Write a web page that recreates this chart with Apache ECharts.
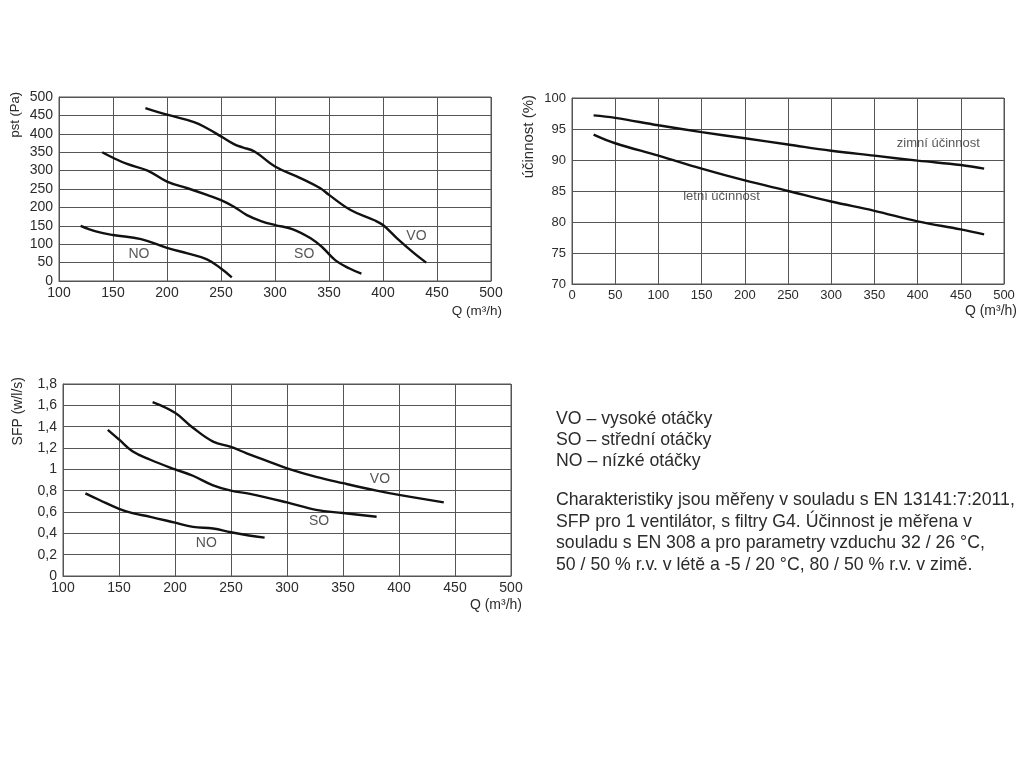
<!DOCTYPE html>
<html>
<head>
<meta charset="utf-8">
<script src="https://cdn.jsdelivr.net/npm/echarts@6/dist/echarts.min.js"></script>
<style>
html,body{margin:0;padding:0;background:#fff;}
#c{width:1024px;height:768px;}
</style>
</head>
<body>
<div id="c"></div>
<script>
// ---- Chart 1: static pressure pst (Pa) vs Q ----
var pVO_Q = [180, 200, 225, 237, 250, 262, 270, 281, 300, 324, 342, 350, 370, 392, 400, 413, 429, 440];
var pVO   = [470, 452, 432, 415, 393, 372, 363, 352, 311, 279, 252, 234, 193, 165, 152, 116, 75, 50];
var pSO_Q = [140, 150, 163, 182, 200, 219, 237, 250, 262, 274, 287, 300, 316, 333, 344, 356, 369, 380];
var pSO   = [350, 335, 318, 300, 270, 252, 234, 220, 202, 179, 163, 152, 141, 116, 91, 56, 34, 20];
var pNO_Q = [120, 135, 150, 176, 200, 219, 237, 250, 260];
var pNO   = [150, 134, 125, 114, 90, 75, 59, 34, 10];
var pLabels = [["NO", 174, 73], ["SO", 327, 73], ["VO", 431, 123]];

// ---- Chart 2: efficiency (%) vs Q ----
var effQ      = [25, 50, 100, 150, 200, 250, 300, 350, 400, 450, 477];
var effWinter = [97.2, 96.8, 95.6, 94.5, 93.5, 92.5, 91.5, 90.7, 89.9, 89.2, 88.6];
var effSummer = [94.1, 92.7, 90.7, 88.6, 86.7, 85.0, 83.3, 81.8, 80.1, 78.8, 78.0];
var effLabels = [["letní účinnost", 173, 84.1], ["zimní účinnost", 424, 92.7]];

// ---- Chart 3: SFP vs Q ----
var sVO_Q = [180, 200, 216, 234, 250, 264, 282, 300, 326, 350, 380, 400, 440];
var sVO   = [1.63, 1.53, 1.39, 1.26, 1.21, 1.15, 1.08, 1.01, 0.93, 0.87, 0.80, 0.76, 0.69];
var sSO_Q = [140, 150, 162, 178, 200, 216, 234, 250, 267, 300, 326, 350, 380];
var sSO   = [1.37, 1.28, 1.17, 1.09, 1.00, 0.94, 0.85, 0.80, 0.77, 0.69, 0.62, 0.59, 0.555];
var sNO_Q = [120, 133, 150, 162, 178, 200, 216, 234, 250, 266, 280];
var sNO   = [0.775, 0.71, 0.63, 0.59, 0.555, 0.50, 0.46, 0.445, 0.41, 0.38, 0.36];
var sLabels = [["NO", 228, 0.305], ["SO", 328.6, 0.51], ["VO", 383, 0.907]];

// ---- Texts ----
var axisNames = {
  p: "pst (Pa)", eff: "účinnost (%)", sfp: "SFP (w/l/s)", q: "Q (m³/h)"
};
var legendLines = ["VO – vysoké otáčky", "SO – střední otáčky", "NO – nízké otáčky"];
var noteLines = [
  "Charakteristiky jsou měřeny v souladu s EN 13141:7:2011,",
  "SFP pro 1 ventilátor, s filtry G4. Účinnost je měřena v",
  "souladu s EN 308 a pro parametry vzduchu 32 / 26 °C,",
  "50 / 50 % r.v. v létě a -5 / 20 °C, 80 / 50 % r.v. v zimě."
];

var FONT = "Liberation Sans";
var TXT = "#2b2b2b";
var GRID = "#555";

function zip(a, b) { return a.map(function (v, i) { return [v, b[i]]; }); }

function xAx(idx, min, fs) {
  return {
    type: "value", gridIndex: idx, min: min, max: 500, interval: 50,
    axisLine: { show: true, lineStyle: { color: GRID, width: 1 } },
    axisTick: { show: false },
    splitLine: { show: true, lineStyle: { color: GRID, width: 1 } },
    axisLabel: { color: TXT, fontSize: fs, fontFamily: FONT, margin: 5 }
  };
}
function yAx(idx, min, max, iv, fs, fmt) {
  var o = {
    type: "value", gridIndex: idx, min: min, max: max, interval: iv,
    axisLine: { show: true, lineStyle: { color: GRID, width: 1 } },
    axisTick: { show: false },
    splitLine: { show: true, lineStyle: { color: GRID, width: 1 } },
    axisLabel: { color: TXT, fontSize: fs, fontFamily: FONT, margin: 6 }
  };
  if (fmt) o.axisLabel.formatter = fmt;
  return o;
}
function curve(idx, qs, vs) {
  return {
    type: "line", xAxisIndex: idx, yAxisIndex: idx, data: zip(qs, vs),
    smooth: 0.4, symbol: "none", silent: true,
    lineStyle: { color: "#111", width: 2.4 }
  };
}
function labels(idx, arr, fs) {
  return {
    type: "scatter", xAxisIndex: idx, yAxisIndex: idx, symbolSize: 0, silent: true,
    data: arr.map(function (a) { return { name: a[0], value: [a[1], a[2]] }; }),
    label: { show: true, position: "inside", formatter: "{b}", color: TXT, fontSize: fs, fontFamily: FONT }
  };
}

var graphics = [];
function rotName(x, yTop, text, fs) {
  graphics.push({
    type: "text", x: x, y: yTop, rotation: Math.PI / 2,
    style: { text: text, fill: TXT, font: fs + "px '" + FONT + "'", textAlign: "right", textVerticalAlign: "middle" }
  });
}
function qName(xRight, y, fs) {
  graphics.push({
    type: "text", x: xRight, y: y,
    style: { text: axisNames.q, fill: TXT, font: fs + "px '" + FONT + "'", textAlign: "right", textVerticalAlign: "middle" }
  });
}
rotName(15, 92, axisNames.p, 13);
rotName(529, 95, axisNames.eff, 15);
rotName(18.5, 377, axisNames.sfp, 14);
qName(502, 311.5, 13.5);
qName(1017, 311.5, 14);
qName(522, 605, 14);

legendLines.forEach(function (t, i) {
  graphics.push({ type: "text", x: 556, y: 419 + i * 21.3,
    style: { text: t, fill: TXT, font: "17.7px '" + FONT + "'", textVerticalAlign: "middle" } });
});
noteLines.forEach(function (t, i) {
  graphics.push({ type: "text", x: 556, y: 500.5 + i * 21.5,
    style: { text: t, fill: TXT, font: "17.7px '" + FONT + "'", textVerticalAlign: "middle" } });
});

var chart = echarts.init(document.getElementById("c"), null, { renderer: "canvas" });
chart.setOption({
  backgroundColor: "#fff",
  animation: false,
  grid: [
    { left: 59, top: 97, width: 432, height: 184, show: true, borderColor: GRID, borderWidth: 1 },
    { left: 572, top: 98, width: 432, height: 186, show: true, borderColor: GRID, borderWidth: 1 },
    { left: 63, top: 384, width: 448, height: 192, show: true, borderColor: GRID, borderWidth: 1 }
  ],
  xAxis: [xAx(0, 100, 14), xAx(1, 0, 13), xAx(2, 100, 14)],
  yAxis: [
    yAx(0, 0, 500, 50, 14),
    yAx(1, 70, 100, 5, 13),
    yAx(2, 0, 1.8, 0.2, 14, function (v) { return String(+v.toFixed(1)).replace(".", ","); })
  ],
  series: [
    curve(0, pVO_Q, pVO), curve(0, pSO_Q, pSO), curve(0, pNO_Q, pNO), labels(0, pLabels, 14),
    curve(1, effQ, effWinter), curve(1, effQ, effSummer), labels(1, effLabels, 13),
    curve(2, sVO_Q, sVO), curve(2, sSO_Q, sSO), curve(2, sNO_Q, sNO), labels(2, sLabels, 14)
  ],
  graphic: graphics
});
</script>
</body>
</html>
